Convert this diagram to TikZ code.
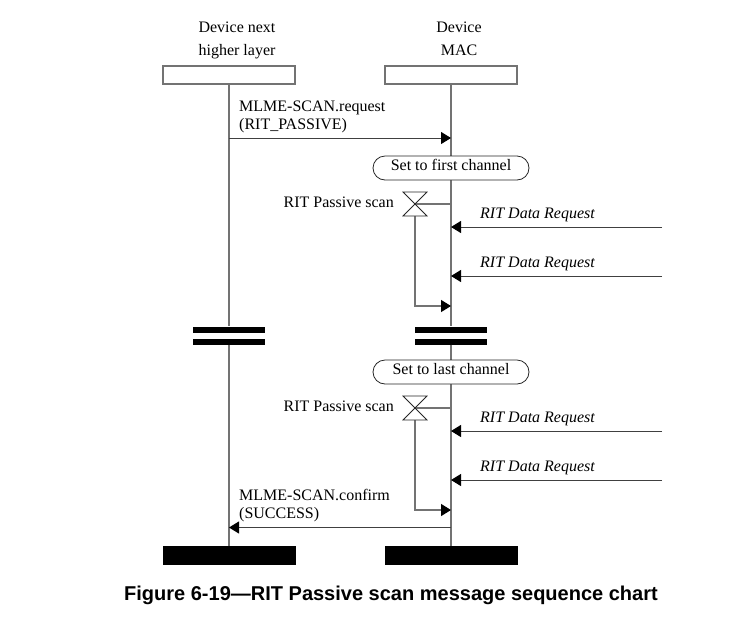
\documentclass[tikz,border=0pt]{standalone}
\usepackage{fontspec}
\setmainfont{Liberation Serif}
\newfontfamily\capfont{Liberation Sans}
\usetikzlibrary{arrows.meta,shapes.misc}
\definecolor{ln}{gray}{0.45}
\tikzset{
  x=1pt,y=-1pt,
  lbl/.style={inner sep=0pt,font=\fontsize{16}{18}\selectfont,align=left},
  lifebox/.style={draw=ln,line width=1.2pt,fill=white,minimum width=132pt,minimum height=18pt,inner sep=0pt},
  endbox/.style={fill=black,draw=black,line width=0.5pt,minimum width=132pt,minimum height=18pt,inner sep=0pt},
  life/.style={draw=ln,line width=1.3pt},
  tip/.style={-{Triangle[length=10pt,width=12pt,fill=black,color=black]}},
  msg/.style={draw=black!75,line width=1pt,tip},
  state/.style={draw=black!85,line width=0.8pt,fill=white,rounded rectangle,minimum width=156pt,minimum height=24pt,text height=12pt,text depth=7pt,inner sep=0pt,font=\fontsize{16}{18}\selectfont},
  bar/.style={draw=none,fill=black,minimum width=72pt,minimum height=6pt,inner sep=0pt},
  hour/.style={draw=black!85,line width=0.8pt,fill=white},
}
\begin{document}
\begin{tikzpicture}
\useasboundingbox (0,0) rectangle (753,625);
\node[lbl,anchor=base] (t1) at (237,32) {Device next};
\node[lbl,anchor=base] (t2) at (237,55) {higher layer};
\node[lbl,anchor=base] (t3) at (459,32) {Device};
\node[lbl,anchor=base] (t4) at (459,55) {MAC};
\node[lifebox] (a) at (229,75) {};
\node[lifebox] (b) at (451,75) {};
\node[endbox] (ae) at (229,555) {};
\node[endbox] (be) at (451,555) {};
\node[bar] (a1) at (229,329.5) {};
\node[bar] (a2) at (229,341.5) {};
\node[bar] (b1) at (451,329.5) {};
\node[bar] (b2) at (451,341.5) {};
\path[life] (a.south) -- (a1.north);
\path[life] (a2.south) -- (ae.north);
\path[life] (b.south) -- (b1.north);
\path[life] (b2.south) -- (be.north);
\node[state] (s1) at (451,168) {Set to first channel};
\node[state] (s2) at (451,372) {Set to last channel};
% request
\coordinate (r1) at (229,138);
\coordinate (r2) at (451,138);
\draw[msg] (r1) -- (r2);
\node[lbl,anchor=south west] (rl) at (239,133) {MLME-SCAN.request\\(RIT\_PASSIVE)};
% confirm
\coordinate (c1) at (451,527.5);
\coordinate (c2) at (229,527.5);
\draw[msg] (c1) -- (c2);
\node[lbl,anchor=south west] (cl) at (239,522) {MLME-SCAN.confirm\\(SUCCESS)};
% timers
\foreach \y/\n/\e in {204/p/306,408/q/510}{
  \coordinate (\n c) at (415,\y);
  \coordinate (\n l) at (451,\y);
  \coordinate (\n e) at (451,\e);
  \draw[life] (\n c) -- (\n l);
  \draw[life,tip] (415,\y+12) -- (415,\e) -- (\n e);
  \draw[hour] (403,\y-12) -- (427,\y-12) -- (403,\y+12) -- (427,\y+12) -- cycle;
  \node[lbl,anchor=east] (\n t) at (394,\y-2) {RIT Passive scan};
}
% incoming
\foreach \y/\n in {227/i1,276/i2,431/i3,480/i4}{
  \coordinate (\n a) at (662,\y);
  \coordinate (\n b) at (451,\y);
  \draw[msg] (\n a) -- (\n b);
  \node[lbl,anchor=west,font=\fontsize{16}{18}\selectfont\itshape] (\n t) at (480,\y-12) {RIT Data Request};
}
\node[inner sep=0pt,font=\capfont\bfseries\fontsize{20}{22}\selectfont] (cap) at (391,595) {Figure 6-19—RIT Passive scan message sequence chart};
\end{tikzpicture}
\end{document}
